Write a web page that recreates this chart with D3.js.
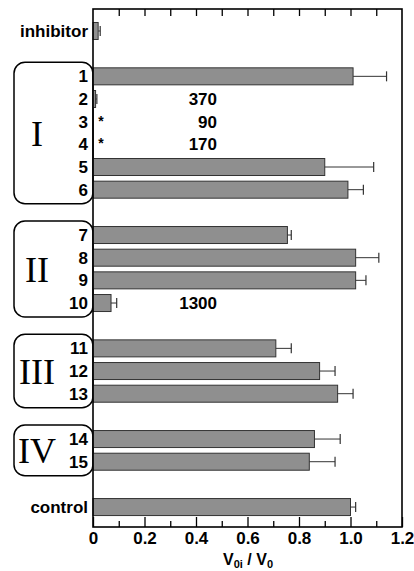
<!DOCTYPE html>
<html>
<head>
<meta charset="utf-8">
<script src="https://cdn.jsdelivr.net/npm/d3@7"></script>
<style>
  body { margin: 0; background: #fff; }
  svg { display: block; }
  .lbl { font-family: "Liberation Sans", Arial, sans-serif; font-weight: bold; font-size: 17px; fill: #000; }
  .roman { font-family: "Liberation Serif", "Times New Roman", serif; font-size: 36px; fill: #000; }
  .axis path { display: none; }
  .axis line { stroke: #000; stroke-width: 1.3; }
  .axis text { font-family: "Liberation Sans", Arial, sans-serif; font-weight: bold; font-size: 17px; fill: #000; }
</style>
</head>
<body>
<svg width="414" height="571"></svg>
<script>
// rows from top to bottom; slot = vertical position index (gaps skipped)
var rows   = ["inhibitor", "1", "2", "3", "4", "5", "6", "7", "8", "9", "10", "11", "12", "13", "14", "15", "control"];
var slots  = [0, 2, 3, 4, 5, 6, 7, 9, 10, 11, 12, 14, 15, 16, 18, 19, 21];
var values = [0.02, 1.01, 0.01, 0, 0, 0.90, 0.99, 0.755, 1.02, 1.02, 0.07, 0.71, 0.88, 0.95, 0.86, 0.84, 1.00];
var errors = [0.008, 0.13, 0.005, 0, 0, 0.19, 0.06, 0.015, 0.09, 0.04, 0.022, 0.06, 0.06, 0.06, 0.10, 0.10, 0.02];

// numbers written next to rows with no / tiny bars
var notes     = {"2": "370", "3": "90", "4": "170", "10": "1300"};
var starred   = ["3", "4"];

// groups of rows in rounded boxes
var groups     = ["I", "II", "III", "IV"];
var groupFirst = ["1", "7", "11", "14"];
var groupLast  = ["6", "10", "13", "15"];

var xTicks = [0, 0.2, 0.4, 0.6, 0.8, 1.0, 1.2];

var svg = d3.select("svg");
var pLeft = 93, pRight = 402, pTop = 9, pBottom = 527;

var x = d3.scaleLinear().domain([0, 1.2]).range([pLeft, pRight]);
var y = d3.scaleLinear().domain([-0.97, 21.88]).range([pTop, pBottom]);
var barH = 17;

var data = rows.map(function(r, i) {
  return {name: r, slot: slots[i], v: values[i], e: errors[i]};
});
var slotOf = {};
data.forEach(function(d) { slotOf[d.name] = d.slot; });

// group boxes
groups.forEach(function(g, i) {
  var y0 = y(slotOf[groupFirst[i]]) - 14, y1 = y(slotOf[groupLast[i]]) + 14;
  svg.append("rect")
    .attr("x", 14).attr("y", y0)
    .attr("width", pLeft - 14).attr("height", y1 - y0)
    .attr("rx", 11).attr("ry", 11)
    .attr("fill", "#fff").attr("stroke", "#000").attr("stroke-width", 1.5);
  svg.append("text").attr("class", "roman")
    .attr("x", 37).attr("y", (y0 + y1) / 2 + 1)
    .attr("text-anchor", "middle").attr("dominant-baseline", "central")
    .text(g);
});

// bars
svg.selectAll("rect.bar")
  .data(data.filter(function(d) { return d.v > 0; }))
  .enter().append("rect")
    .attr("class", "bar")
    .attr("x", x(0))
    .attr("y", function(d) { return y(d.slot) - barH / 2; })
    .attr("width", function(d) { return x(d.v) - x(0); })
    .attr("height", barH)
    .attr("fill", "#8f8f8f")
    .attr("stroke", "#333")
    .attr("stroke-width", 1);

// error bars
var eb = svg.selectAll("g.err")
  .data(data.filter(function(d) { return d.e > 0; }))
  .enter().append("g").attr("class", "err");
eb.append("line")
  .attr("x1", function(d) { return x(d.v); })
  .attr("x2", function(d) { return x(d.v + d.e); })
  .attr("y1", function(d) { return y(d.slot); })
  .attr("y2", function(d) { return y(d.slot); })
  .attr("stroke", "#333").attr("stroke-width", 1);
eb.append("line")
  .attr("x1", function(d) { return x(d.v + d.e); })
  .attr("x2", function(d) { return x(d.v + d.e); })
  .attr("y1", function(d) { return y(d.slot) - 5; })
  .attr("y2", function(d) { return y(d.slot) + 5; })
  .attr("stroke", "#333").attr("stroke-width", 1.2);

// row labels
svg.selectAll("text.row")
  .data(data)
  .enter().append("text")
    .attr("class", "lbl")
    .attr("x", pLeft - 5)
    .attr("y", function(d) { return y(d.slot); })
    .attr("dy", "0.36em")
    .attr("text-anchor", "end")
    .text(function(d) { return d.name; });

// notes and asterisks
Object.keys(notes).forEach(function(k) {
  svg.append("text").attr("class", "lbl")
    .attr("x", 217).attr("y", y(slotOf[k])).attr("dy", "0.36em")
    .attr("text-anchor", "end").text(notes[k]);
});
starred.forEach(function(k) {
  svg.append("text").attr("class", "lbl")
    .style("font-size", "14px")
    .attr("x", 101).attr("y", y(slotOf[k]) + 4)
    .attr("text-anchor", "middle").text("*");
});

// axes (ticks inside the frame)
svg.append("g").attr("class", "axis")
  .attr("transform", "translate(0," + pBottom + ")")
  .call(d3.axisBottom(x).tickValues(xTicks).tickSizeInner(-10).tickSizeOuter(0).tickPadding(5)
    .tickFormat(function(d) { return d === 0 ? "0" : d3.format(".1f")(d); }));
svg.append("g").attr("class", "axis")
  .attr("transform", "translate(0," + pBottom + ")")
  .call(d3.axisBottom(x).tickValues([0.1, 0.3, 0.5, 0.7, 0.9, 1.1]).tickSize(-6).tickFormat(""));
svg.append("g").attr("class", "axis")
  .attr("transform", "translate(0," + pTop + ")")
  .call(d3.axisTop(x).tickValues([0.1, 0.2, 0.3, 0.4, 0.5, 0.6, 0.7, 0.8, 0.9, 1.0, 1.1]).tickSize(-7).tickFormat(""));

// frame
svg.append("rect")
  .attr("x", pLeft).attr("y", pTop)
  .attr("width", pRight - pLeft).attr("height", pBottom - pTop)
  .attr("fill", "none").attr("stroke", "#000").attr("stroke-width", 1.6);

// axis title
var t = svg.append("text").attr("class", "lbl")
  .style("font-size", "16px")
  .attr("x", 248).attr("y", 565).attr("text-anchor", "middle");
t.append("tspan").text("V");
t.append("tspan").attr("dy", 3).style("font-size", "11px").text("0i");
t.append("tspan").attr("dy", -3).text(" / V");
t.append("tspan").attr("dy", 3).style("font-size", "11px").text("0");
</script>
</body>
</html>
